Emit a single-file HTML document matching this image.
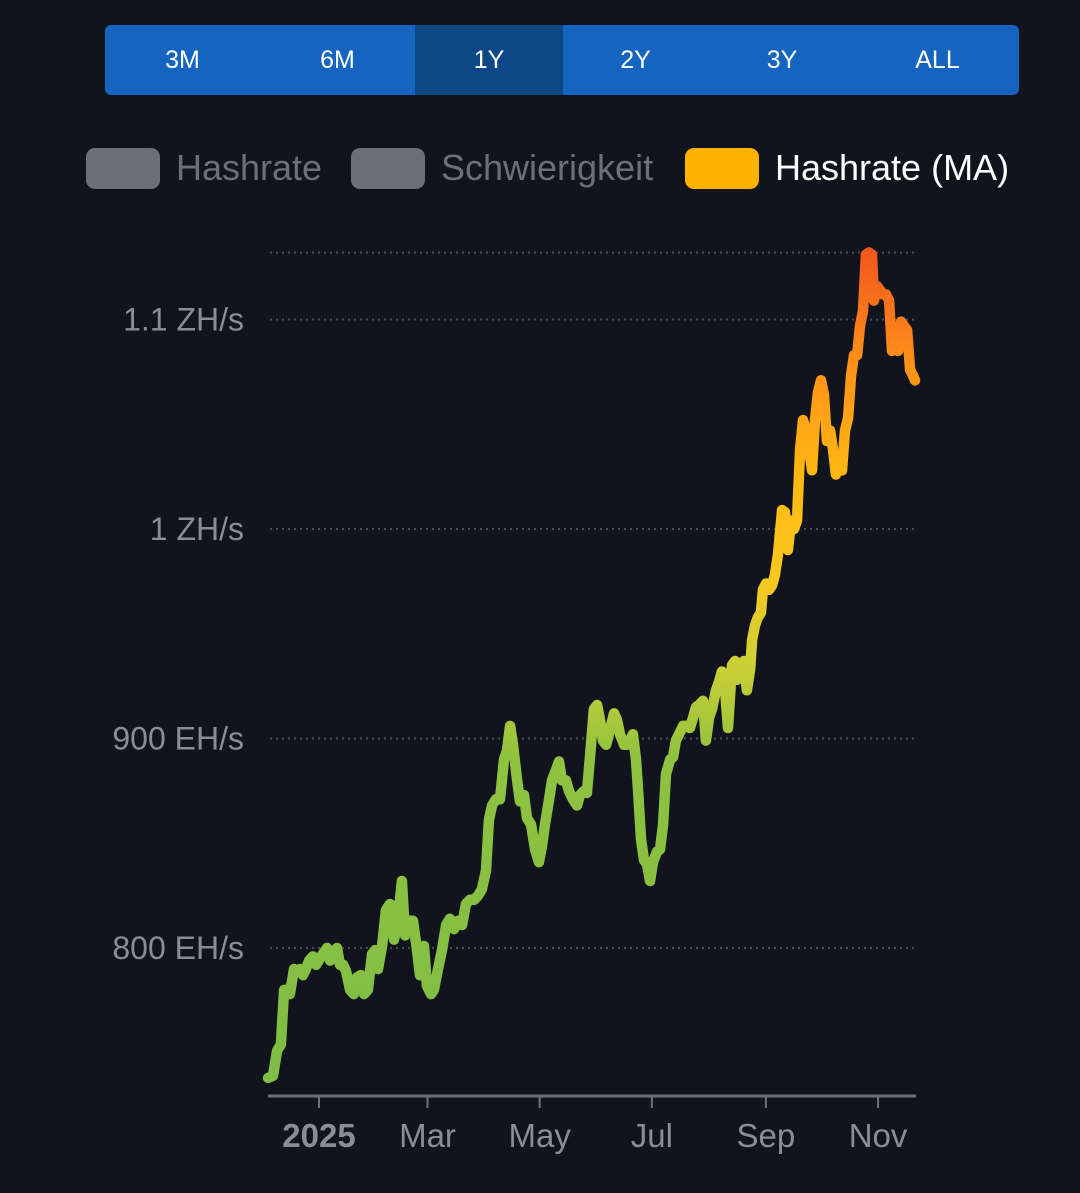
<!DOCTYPE html>
<html><head><meta charset="utf-8"><style>
body{margin:0;background:#12141d;width:1080px;height:1193px;overflow:hidden;font-family:"Liberation Sans",sans-serif}
.bar{position:absolute;left:105px;top:25px;width:914px;height:70px;background:#1565c0;border-radius:6px;overflow:hidden;display:flex}
.bar div{color:#fff;font-size:25px;display:flex;align-items:center;justify-content:center}
.leg{position:absolute;top:147px;height:42px;display:flex;align-items:center;font-size:36px}
.sw{width:74px;height:41px;border-radius:9px;margin-right:16px}
</style></head><body>
<div class="bar">
<div style="width:155px">3M</div>
<div style="width:155px">6M</div>
<div style="width:148px;background:#0e4785">1Y</div>
<div style="width:145px">2Y</div>
<div style="width:148px">3Y</div>
<div style="width:163px">ALL</div>
</div>
<div class="leg" style="left:86px;color:#6b6f78"><div class="sw" style="background:#6b6f78"></div>Hashrate</div>
<div class="leg" style="left:351px;color:#6b6f78"><div class="sw" style="background:#6b6f78"></div>Schwierigkeit</div>
<div class="leg" style="left:685px;color:#fff"><div class="sw" style="background:#ffb300"></div>Hashrate (MA)</div>
<svg id="chart" width="1080" height="1193" style="position:absolute;left:0;top:0"></svg>
<script>
const yTicks=[800,900,1000,1100,1132];
const yTickLabels=["800 EH/s","900 EH/s","1 ZH/s","1.1 ZH/s",""];
const xTickDays=[0,59,120,181,243,304];
const xTickLabels=["2025","Mar","May","Jul","Sep","Nov"];
const days=[-27.7,-25,-22.8,-20.7,-19,-17.4,-15.8,-13.6,-12,-10.3,-8.7,-7.1,-5.4,-3.3,-1.6,0.5,2.7,4.4,6,7.6,9.8,11.4,13.1,14.7,16.9,19,20.7,22.8,24.5,26.6,28.8,30.5,32.1,34.3,36.4,38.6,40.8,42.9,45.1,46.8,48.9,51.1,53.3,54.9,57.1,58.7,60.9,62.5,64.7,66.9,69.1,71.2,73.4,75.6,77.8,79.9,82.1,84.3,86.5,88.6,90.8,92.4,94.1,96.2,98.4,100.6,102.2,103.9,105.5,107.7,109.3,111.5,113.1,115.3,117.5,119.6,121.3,122.9,125.1,126.7,128.9,130.5,132.1,134.3,135.9,138.1,140.3,141.9,144.1,145.7,147.9,149.5,151.2,152.8,154.4,156.1,158.2,160.4,162,163.7,165.9,167.5,169.1,170.7,172.4,173.5,175.1,176.7,178.4,180,181.6,183.8,185.4,187.1,188.7,190.9,192.5,194.1,196.3,198,199.6,201.7,203.4,205,206.6,208.8,210.4,212.1,213.7,215.9,217.5,219.1,220.8,222.4,224.6,226.2,227.3,228.9,231.1,232.7,234.4,235.5,237.1,238.7,240.3,241.4,243.1,244.7,246.3,247.9,249.6,251.8,253.4,255,256.7,258.3,259.9,261.6,263.2,264.8,266.5,268.1,269.7,271.3,273,274.6,276.2,277.9,279.5,281.1,282.8,284.4,286,287.7,289.3,290.9,292.6,294.2,295.8,297.4,299.1,300.7,301.8,303.4,305.1,306.7,308.3,310,311.6,313.3,314.9,316.5,318.1,319.8,321.4,323.1,324.1];
const values=[738,739,751,754,780,780,778,790,789,790,787,790,794,796,792,795,798,800,794,795,800,792,792,789,780,778,786,787,778,780,797,799,790,801,818,821,804,813,832,806,813,813,799,787,801,782,778,780,790,799,811,814,809,813,811,821,823,823,825,828,837,861,868,871,871,890,894,906,897,880,870,873,862,859,847,841,849,859,871,880,885,889,880,880,875,871,868,873,875,874,897,914,916,909,899,897,904,912,909,902,897,897,899,902,890,875,852,842,840,832,841,846,847,859,883,890,891,899,903,906,906,905,910,915,916,918,899,910,914,923,927,932,923,905,935,937,928,933,937,923,933,947,954,958,960,971,974,971,973,978,988,1009,1008,990,1004,1000,1004,1038,1052,1047,1038,1028,1052,1065,1071,1064,1042,1047,1038,1026,1033,1028,1047,1053,1073,1083,1083,1097,1104,1131,1132,1131,1109,1116,1114,1112,1112,1109,1085,1088,1085,1099,1097,1095,1076,1073,1071];
const NS="http://www.w3.org/2000/svg";
const svg=document.getElementById('chart');
const X=d=>319+(d)*1.839;
const Y=v=>948-(v-800)*2.095;
function mk(t,a){const e=document.createElementNS(NS,t);for(const k in a)e.setAttribute(k,a[k]);svg.appendChild(e);return e;}
const defs=mk('defs',{});
defs.innerHTML=`<linearGradient id="g" gradientUnits="userSpaceOnUse" x1="0" y1="${Y(740)}" x2="0" y2="${Y(1135)}">
<stop offset="0" stop-color="#7fbd45"/><stop offset="0.38" stop-color="#8fc23f"/><stop offset="0.5" stop-color="#cfd035"/><stop offset="0.6" stop-color="#f8c820"/><stop offset="0.72" stop-color="#ffb812"/><stop offset="0.85" stop-color="#ff9418"/><stop offset="1" stop-color="#f2541f"/></linearGradient>`;
yTicks.forEach((v,i)=>{
const l=mk('line',{x1:270,x2:915,y1:Y(v),y2:Y(v),stroke:'#4a4d57','stroke-width':2,'stroke-dasharray':'2 4'});


if(yTickLabels[i]){const t=mk('text',{x:244,y:Y(v)+11,'text-anchor':'end',fill:'#8a8d96','font-size':32});
t.textContent=yTickLabels[i];

}
});
const ax=mk('line',{x1:268,x2:916,y1:1096,y2:1096,stroke:'#6b6f78','stroke-width':3});


xTickDays.forEach((d,i)=>{
const tk=mk('line',{x1:X(d),x2:X(d),y1:1096,y2:1108,stroke:'#6b6f78','stroke-width':2});


const t=mk('text',{x:X(d),y:1147,'text-anchor':'middle',fill:'#8a8d96','font-size':33,'font-weight':i==0?'bold':'normal'});
t.textContent=xTickLabels[i];


});
const pts=values.map((v,i)=>X(days[i]).toFixed(1)+','+Y(v).toFixed(1)).join(' ');
const pl=mk('polyline',{points:pts,fill:'none',stroke:'url(#g)','stroke-width':10.5,'stroke-linejoin':'round','stroke-linecap':'round'});


</script>
</body></html>
